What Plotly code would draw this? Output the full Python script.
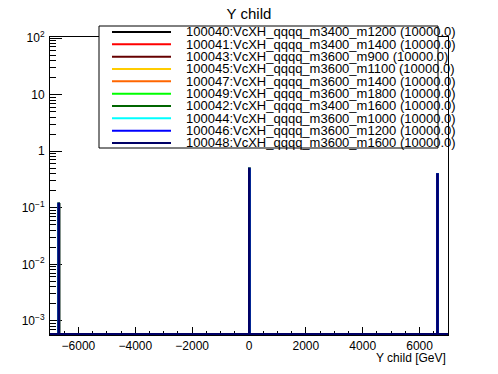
import numpy as np
import plotly.graph_objects as go

# ---------------- data ----------------
series_names = [
    "100040:VcXH_qqqq_m3400_m1200 (10000.0)",
    "100041:VcXH_qqqq_m3400_m1400 (10000.0)",
    "100043:VcXH_qqqq_m3600_m900 (10000.0)",
    "100045:VcXH_qqqq_m3600_m1100 (10000.0)",
    "100047:VcXH_qqqq_m3600_m1400 (10000.0)",
    "100049:VcXH_qqqq_m3600_m1800 (10000.0)",
    "100042:VcXH_qqqq_m3400_m1600 (10000.0)",
    "100044:VcXH_qqqq_m3600_m1000 (10000.0)",
    "100046:VcXH_qqqq_m3600_m1200 (10000.0)",
    "100048:VcXH_qqqq_m3600_m1600 (10000.0)",
]
series_colors = ["#000000", "#ff0000", "#660000", "#ffcc00", "#ff6600",
                 "#00ff00", "#006600", "#00ffff", "#0000ff", "#000066"]

# histogram binning (GeV) and the non-empty bins
x_min, x_max, bin_width = -7000, 7000, 20
filled_bin_low_edges = [-6700, 0, 6620]
filled_bin_values = [0.118, 0.49, 0.39]
# every sample shows the same (overlapping) distribution
series_values = [filled_bin_values for _ in series_names]

x_tick_vals = [-6000, -4000, -2000, 0, 2000, 4000, 6000]
y_tick_vals = [1e-3, 1e-2, 1e-1, 1, 10, 100]
y_tick_text = ["10<sup>\u22123</sup>", "10<sup>\u22122</sup>", "10<sup>\u22121</sup>",
               "1", "10", "10<sup>2</sup>"]

title_text = "Y child"
x_title = "Y child [GeV]"

# ---------------- layout geometry ----------------
OFF = 8                      # default page margin of the html body
W, H = 498 - OFF, 374 - OFF
L, R, T, B = 50 - OFF, 50, 37 - OFF, 39
pw, ph = W - L - R, H - T - B
y_log_range = [-3.25, 2.02]
floor_val = 10 ** (y_log_range[0] + 0.018)

edges = np.arange(x_min, x_max + bin_width, bin_width)


def step_outline(lows, vals):
    content = np.zeros(len(edges) - 1)
    for lo, v in zip(lows, vals):
        idx = int(round((lo - x_min) / bin_width))
        content[idx] = v
    xs, ys = [], []
    for i in range(len(content)):
        y = content[i] if content[i] > 0 else floor_val
        xs += [edges[i], edges[i + 1]]
        ys += [y, y]
    return xs, ys


fig = go.Figure()
for name, color, vals in zip(series_names, series_colors, series_values):
    xs, ys = step_outline(filled_bin_low_edges, vals)
    fig.add_trace(go.Scatter(x=xs, y=ys, mode="lines", name=name,
                             line=dict(color=color, width=2),
                             showlegend=False, hoverinfo="skip"))

font_family = "Liberation Sans, Arial, Helvetica, sans-serif"

fig.update_layout(
    width=W, height=H,
    margin=dict(l=L, r=R, t=T, b=B, pad=0, autoexpand=False),
    paper_bgcolor="white", plot_bgcolor="white",
    font=dict(family=font_family, size=12, color="black"),
    title=dict(text=title_text, x=0.5, xanchor="center", xref="paper",
               y=1.0, yref="container", yanchor="top",
               font=dict(size=15, family=font_family, color="black")),
    showlegend=False,
)
fig.update_xaxes(
    range=[x_min, x_max], showgrid=False, zeroline=False, automargin=False,
    showline=True, linecolor="black", linewidth=1, mirror=True,
    ticks="inside", ticklen=8, tickcolor="black", tickwidth=1,
    tickvals=x_tick_vals, tickfont=dict(size=12),
    minor=dict(ticks="inside", ticklen=4, dtick=500, tickcolor="black", tickwidth=1),
    layer="below traces",
)
fig.update_yaxes(
    type="log", range=y_log_range, showgrid=False, zeroline=False, automargin=False,
    showline=True, linecolor="black", linewidth=1, mirror=True,
    ticks="inside", ticklen=12, tickcolor="black", tickwidth=1,
    tickvals=y_tick_vals, ticktext=y_tick_text, tickfont=dict(size=12),
    ticklabelstandoff=2,
    minor=dict(ticks="inside", ticklen=6, dtick="D1", tickcolor="black", tickwidth=1),
    layer="below traces",
)


# pixel (page) -> paper coordinates
def px_x(p):
    return (p - OFF - L) / pw


def px_y(p):
    return (T + ph - (p - OFF)) / ph


# axis title (ROOT style, right-aligned under the axis)
fig.add_annotation(text=x_title, xref="paper", yref="paper", x=px_x(448), y=px_y(358),
                   xanchor="right", yanchor="middle", showarrow=False,
                   font=dict(size=12, family=font_family))

# ---------------- legend box (ROOT TLegend look) ----------------
leg_l, leg_r, leg_t, leg_b = 99, 438, 26, 148
fig.add_shape(type="rect", xref="paper", yref="paper",
              x0=px_x(leg_l), x1=px_x(leg_r), y0=px_y(leg_b), y1=px_y(leg_t),
              line=dict(color="black", width=1), fillcolor="white", layer="above")
row0, row_step = 32, 12.33
for i, (name, color) in enumerate(zip(series_names, series_colors)):
    yy = row0 + i * row_step
    fig.add_shape(type="line", xref="paper", yref="paper",
                  x0=px_x(112), x1=px_x(171), y0=px_y(yy), y1=px_y(yy),
                  line=dict(color=color, width=2), layer="above")
    fig.add_annotation(text=name, xref="paper", yref="paper",
                       x=px_x(184), y=px_y(yy), xanchor="left", yanchor="middle",
                       showarrow=False, font=dict(size=13, family=font_family))

fig.write_html("out.html")
